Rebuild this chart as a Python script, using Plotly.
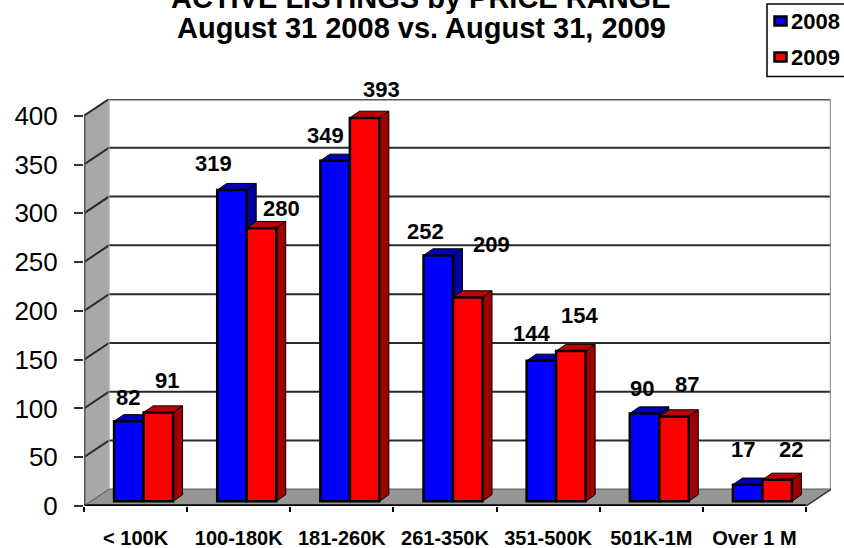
import plotly.graph_objects as go

categories = ["< 100K", "100-180K", "181-260K", "261-350K", "351-500K", "501K-1M", "Over 1 M"]
values_2008 = [82, 319, 349, 252, 144, 90, 17]
values_2009 = [91, 280, 393, 209, 154, 87, 22]
y_ticks = [0, 50, 100, 150, 200, 250, 300, 350, 400]

# label nudges in px from the top-centre of each bar (hand-placed in the original)
shift_2008 = [(-1, 24), (-18, 27), (-10, 25), (-13, 24), (-10, 27), (-3, 25), (-5, 35)]
shift_2009 = [(9, 32), (20, 20), (17, 28), (24, 53), (9, 36), (13, 32), (14, 30)]

PX_X = 722 / 7      # px per category
PX_Y = 391.6 / 400  # px per unit
DX, DY = 25 / PX_X, 16.8 / PX_Y            # wall depth
BX, BY = 9.5 / PX_X, 6.7 / PX_Y            # bar depth
OX, BASE = 8 / PX_X, 4.8                   # bars stand on the middle of the floor
BW = 29.5 / PX_X
n = len(categories)
XR = [0, n + DX]
YR = [0, 400 + DY]

fig = go.Figure()


def poly(xs, ys, fill, line="#000000", w=1):
    fig.add_trace(go.Scatter(x=xs, y=ys, mode="lines", fill="toself", fillcolor=fill,
                             line=dict(color=line, width=w), hoverinfo="skip", showlegend=False))


def path(xs, ys, color, w):
    fig.add_trace(go.Scatter(x=xs, y=ys, mode="lines", line=dict(color=color, width=w),
                             hoverinfo="skip", showlegend=False))


# walls and floor
poly([0, DX, DX, 0, 0], [0, DY, 400 + DY, 400, 0], "#a8a8a8", "#a8a8a8")
poly([0, n, n + DX, DX, 0], [0, 0, DY, DY, 0], "#969696", "#969696")

# gridlines
gx, gy = [], []
for v in y_ticks[1:]:
    gx += [0, DX, n + DX, None]
    gy += [v, v + DY, v + DY, None]
path(gx, gy, "#2a2a2a", 2)
path([DX, n + DX], [400 + DY, 400 + DY], "#555555", 3)
path([n + DX, n + DX], [DY, 400 + DY], "#999999", 2.5)
path([DX, n + DX], [DY, DY], "#777777", 1.5)
path([DX, DX], [DY, 400 + DY], "#bbbbbb", 1)

# axis frame
path([0, 0], [0, 400], "#555555", 3)
path([0, n], [0, 0], "#000000", 3.5)
path([n, n + DX], [0, DY], "#333333", 1.5)
path([0, DX], [0, DY], "#555555", 1)

x_2008 = [i + 0.5 + OX - BW for i in range(n)]
x_2009 = [i + 0.5 + OX for i in range(n)]

# top and side faces, back to front
for xs, vals, top, side in [(x_2008, values_2008, "#0000b4", "#00009a"),
                            (x_2009, values_2009, "#c00000", "#a00000")]:
    for x0, v in zip(xs, vals):
        y1 = v + BASE
        poly([x0, x0 + BW, x0 + BW + BX, x0 + BX, x0], [y1, y1, y1 + BY, y1 + BY, y1], top)
        poly([x0 + BW, x0 + BW + BX, x0 + BW + BX, x0 + BW, x0 + BW],
             [BASE, BASE + BY, y1 + BY, y1, BASE], side)

# front faces on an overlaying subplot so they cover the side faces
for name, xs, vals, col in [("2008", x_2008, values_2008, "#0000ff"),
                            ("2009", x_2009, values_2009, "#ff0000")]:
    fig.add_trace(go.Bar(name=name, x=[x + BW / 2 for x in xs], y=vals, base=BASE, width=BW,
                         marker=dict(color=col, line=dict(color="#000000", width=2.5)),
                         xaxis="x2", yaxis="y2", showlegend=False))

annotations = []
for xs, vals, shifts in [(x_2008, values_2008, shift_2008), (x_2009, values_2009, shift_2009)]:
    for x0, v, (sx, sy) in zip(xs, vals, shifts):
        annotations.append(dict(x=x0 + BW / 2, y=v + BASE, xref="x2", yref="y2", text="<b>%d</b>" % v,
                                showarrow=False, xshift=sx, yshift=sy, yanchor="middle",
                                font=dict(family="Liberation Sans", size=22, color="#000000")))

W, H = 747.0, 406.6


def px(x):
    return (x - 84) / W


def py(y):
    return (505.6 - y) / H


def rect(x0, y0, x1, y1, fill, line, w):
    return dict(type="rect", xref="paper", yref="paper", x0=px(x0), x1=px(x1), y0=py(y0), y1=py(y1),
                fillcolor=fill, line=dict(color=line, width=w), layer="above")


shapes = [rect(767, 4, 846, 76.5, "#ffffff", "#000000", 1.5),
          rect(774.5, 16.5, 786.5, 25.5, "#0000ff", "#000000", 2.5),
          rect(774.5, 52.5, 786.5, 61.5, "#ff0000", "#000000", 2.5)]
for label, yy in [("2008", 21.7), ("2009", 57.3)]:
    annotations.append(dict(x=px(791), y=py(yy), xref="paper", yref="paper", xanchor="left", yanchor="middle",
                            text="<b>" + label + "</b>", showarrow=False, borderpad=0, xshift=-1,
                            font=dict(family="Liberation Sans", size=22, color="#000000")))

for line, yy in [("ACTIVE LISTINGS by PRICE RANGE", -2), ("August 31 2008 vs. August 31, 2009", 28)]:
    annotations.append(dict(x=px(421), y=py(yy), xref="paper", yref="paper", xanchor="center", yanchor="middle",
                            text="<b>" + line + "</b>", showarrow=False,
                            font=dict(family="Liberation Sans", size=29, color="#000000")))

fig.update_layout(
    width=844, height=548, autosize=False,
    margin=dict(l=84, r=13, t=99, b=42.4, autoexpand=False),
    paper_bgcolor="#ffffff", plot_bgcolor="#ffffff",
    barmode="overlay", showlegend=False,
    xaxis=dict(range=XR, tickmode="array", tickvals=[i + 0.5 for i in range(n)], ticktext=categories,
               ticks="", showgrid=False, zeroline=False, showline=False, ticklabelstandoff=18,
               tickfont=dict(family="Liberation Sans", size=20, weight="bold", color="#000000"),
               minor=dict(tick0=0, dtick=1, ticks="outside", ticklen=5, tickwidth=2, tickcolor="#000000", showgrid=False)),
    yaxis=dict(range=YR, tickmode="array", tickvals=y_ticks, ticks="outside", ticklen=9, tickwidth=2,
               tickcolor="#333333", showgrid=False, zeroline=False, showline=False, ticklabelstandoff=11,
               tickfont=dict(family="Liberation Sans", size=26, color="#000000")),
    xaxis2=dict(range=XR, overlaying="x", visible=False),
    yaxis2=dict(range=YR, overlaying="y", visible=False),
    annotations=annotations, shapes=shapes,
)

# the page's default body margin would push the figure off its 844x548 window
fig.write_html("out.html", config={"displayModeBar": False}, post_script="document.body.style.margin='0';")
